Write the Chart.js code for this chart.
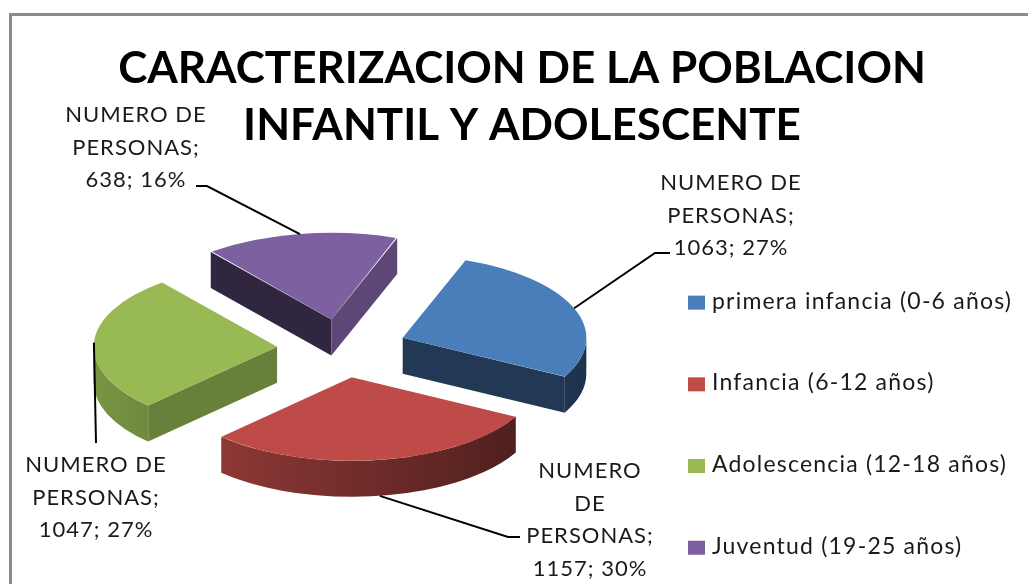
<!DOCTYPE html>
<html>
<head>
<meta charset="utf-8">
<script src="https://cdn.jsdelivr.net/npm/chart.js@4.4.0/dist/chart.umd.min.js"></script>
<style>
  html, body { margin: 0; padding: 0; background: #fff; overflow: hidden; }
  #wrap { position: relative; width: 1028px; height: 584px; overflow: hidden; }
  #frame { position: absolute; left: 9px; top: 13px; width: 1100px; height: 700px;
           border-left: 3px solid #8c8c8c; border-top: 3px solid #8c8c8c; }
  canvas { position: absolute; left: 0; top: 0; }
</style>
</head>
<body>
<div id="wrap">
  <div id="frame"></div>
  <canvas id="chart" width="1040" height="584"></canvas>
</div>
<script>
// chart data
const titleLines = ['CARACTERIZACION DE LA POBLACION', 'INFANTIL Y ADOLESCENTE'];
const seriesName = 'NUMERO DE PERSONAS';
const categories = ['primera infancia (0-6 años)', 'Infancia (6-12 años)', 'Adolescencia (12-18 años)', 'Juventud (19-25 años)'];
const personas = [1063, 1157, 1047, 638];
const sliceColors = ['#4a7ebb', '#be4b48', '#98b954', '#7d60a0'];

// look of the fake 3D pie
const TILT = 0.45;   // vertical squash of the pie
const DEPTH = 36;    // thickness of the slices in px
const FONT = 'Lato';

// where the data labels sit and how their leader lines bend (words per line)
const labelLayout = [
  { x: 731, y: 190, words: [2, 1, 2],    path: [[655, 253], [670, 253]] },
  { x: 590, y: 478, words: [1, 1, 1, 2], path: [[508, 537], [520, 537]] },
  { x: 96,  y: 472, words: [2, 1, 2],    path: [[96, 443]] },
  { x: 136, y: 122, words: [2, 1, 2],    path: [[207, 186], [196, 186]] }
];

function shade(hex, f) {
  const n = parseInt(hex.slice(1), 16);
  const r = Math.round(((n >> 16) & 255) * f);
  const g = Math.round(((n >> 8) & 255) * f);
  const b = Math.round((n & 255) * f);
  return `rgb(${r},${g},${b})`;
}

// same geometry ArcElement.draw uses for an exploded slice, projected with TILT
function arcGeom(el) {
  const circ = el.endAngle - el.startAngle;
  const off = (el.options.offset || 0) / 4;
  const fix = 1 - Math.sin(Math.min(Math.PI, circ));
  const mid = (el.startAngle + el.endAngle) / 2;
  const ox = el.x + Math.cos(mid) * off;
  const oy = el.y + Math.sin(mid) * off;
  const r = el.outerRadius + off * fix;
  return { sx: ox, sy: el.y + TILT * (oy - el.y), r, rk: r * TILT, s: el.startAngle, e: el.endAngle, mid };
}

const pie3d = {
  id: 'pie3d',
  beforeDatasetsDraw(chart) {
    const ctx = chart.ctx;
    const arcs = chart.getDatasetMeta(0).data;
    const order = arcs.map((el, i) => ({ el, i, g: arcGeom(el) }))
      .sort((a, b) => Math.sin(a.g.mid) - Math.sin(b.g.mid));

    ctx.save();
    order.forEach(({ g, i }) => {
      const base = sliceColors[i];
      // flat radial walls that face the viewer
      [[g.s, g.s - Math.PI / 2], [g.e, g.e + Math.PI / 2]].forEach(([a, n]) => {
        if (Math.sin(n) <= 0) return;
        const cx = g.sx + g.r * Math.cos(a), cy = g.sy + g.rk * Math.sin(a);
        ctx.beginPath();
        ctx.moveTo(g.sx, g.sy);
        ctx.lineTo(cx, cy);
        ctx.lineTo(cx, cy + DEPTH);
        ctx.lineTo(g.sx, g.sy + DEPTH);
        ctx.closePath();
        ctx.fillStyle = shade(base, 0.55 + 0.2 * Math.cos(n));
        ctx.fill();
      });
      // curved outer wall, front half only
      for (let k = -2; k <= 2; k++) {
        const a1 = Math.max(g.s, 2 * Math.PI * k);
        const a2 = Math.min(g.e, 2 * Math.PI * k + Math.PI);
        if (a2 <= a1) continue;
        ctx.beginPath();
        ctx.ellipse(g.sx, g.sy, g.r, g.rk, 0, a1, a2);
        ctx.ellipse(g.sx, g.sy + DEPTH, g.r, g.rk, 0, a2, a1, true);
        ctx.closePath();
        const xl = g.sx + g.r * Math.cos(a2), xr = g.sx + g.r * Math.cos(a1);
        const grad = ctx.createLinearGradient(xl, 0, xr + 0.01, 0);
        grad.addColorStop(0, shade(base, 0.6 - 0.2 * Math.cos(a2)));
        grad.addColorStop(1, shade(base, 0.6 - 0.2 * Math.cos(a1)));
        ctx.fillStyle = grad;
        ctx.fill();
      }
    });
    ctx.restore();

    // squash the top faces that Chart.js draws next
    const cy = arcs[0].y;
    ctx.save();
    ctx.translate(0, cy);
    ctx.scale(1, TILT);
    ctx.translate(0, -cy);
  },
  afterDatasetsDraw(chart) {
    const ctx = chart.ctx;
    ctx.restore();

    const arcs = chart.getDatasetMeta(0).data;
    const total = personas.reduce((a, b) => a + b, 0);
    ctx.save();
    ctx.font = `22px ${FONT}`;
    ctx.letterSpacing = '1px';
    ctx.fillStyle = '#1a1a1a';
    ctx.textAlign = 'center';
    ctx.textBaseline = 'alphabetic';
    ctx.strokeStyle = '#000';
    ctx.lineWidth = 2;
    arcs.forEach((el, i) => {
      const g = arcGeom(el);
      const lay = labelLayout[i];
      let ax = g.sx + g.r * Math.cos(g.mid);
      let ay = g.sy + g.rk * Math.sin(g.mid);
      if (Math.sin(g.mid) > 0) ay += DEPTH;
      ctx.beginPath();
      ctx.moveTo(ax, ay);
      lay.path.forEach(([px, py]) => ctx.lineTo(px, py));
      ctx.stroke();

      const pct = Math.round(personas[i] / total * 100);
      const words = `${seriesName}; ${personas[i]}; ${pct}%`.split(' ');
      let w = 0;
      lay.words.forEach((n, li) => {
        ctx.fillText(words.slice(w, w + n).join(' '), lay.x, lay.y + li * 32.5);
        w += n;
      });
    });
    ctx.restore();
  }
};

// legend column on the right, added as a layout box so the pie area shrinks
const sideLegend = {
  id: 'sideLegend',
  beforeInit(chart) {
    const box = {
      position: 'right', weight: 10, fullSize: false, options: {},
      left: 0, top: 0, right: 0, bottom: 0, width: 0, height: 0,
      isHorizontal() { return false; },
      update(maxWidth, maxHeight) { this.width = 360; this.height = maxHeight; },
      draw() {
        const ctx = chart.ctx;
        ctx.save();
        ctx.font = `23px ${FONT}`;
        ctx.letterSpacing = '1.2px';
        ctx.textBaseline = 'alphabetic';
        ctx.textAlign = 'left';
        categories.forEach((c, i) => {
          const base = this.top + 155 + i * 81.7;
          ctx.fillStyle = sliceColors[i];
          ctx.fillRect(this.left + 14, base - 13, 17, 14);
          ctx.fillStyle = '#1a1a1a';
          ctx.fillText(c, this.left + 38, base);
        });
        ctx.restore();
      }
    };
    Chart.layouts.addBox(chart, box);
  }
};

new Chart(document.getElementById('chart'), {
  type: 'pie',
  data: {
    labels: categories,
    datasets: [{
      label: seriesName,
      data: personas,
      backgroundColor: sliceColors,
      borderWidth: 0,
      offset: 260,
      clip: 2000
    }]
  },
  options: {
    responsive: false,
    animation: false,
    events: [],
    rotation: 20,
    radius: 183,
    layout: { padding: { left: 10, right: 6, top: 14, bottom: 41 } },
    plugins: {
      legend: { display: false },
      tooltip: { enabled: false },
      title: {
        display: true,
        text: titleLines,
        color: '#000',
        font: { family: FONT, size: 44, weight: 'bold', lineHeight: 1.28 },
        padding: { top: 27, bottom: 0 }
      }
    }
  },
  plugins: [pie3d, sideLegend]
});
</script>
</body>
</html>
